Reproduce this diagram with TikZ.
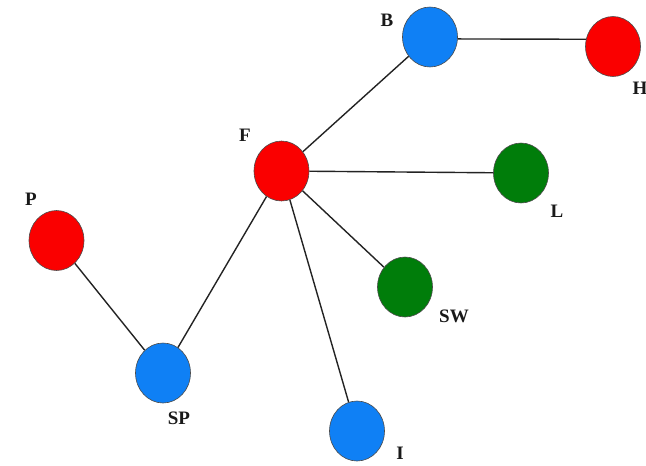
\documentclass[tikz,border=0pt]{standalone}
\usepackage{fontspec}
\setmainfont{Liberation Serif}
\usetikzlibrary{shapes.geometric}
\definecolor{nblue}{RGB}{15,128,245}
\definecolor{nred}{RGB}{250,0,0}
\definecolor{ngreen}{RGB}{0,125,10}
\definecolor{edgec}{RGB}{35,35,35}
\begin{document}
\begin{tikzpicture}[x=1pt,y=-1pt,
  vert/.style={ellipse,draw=black!70,line width=0.6pt,minimum width=55pt,minimum height=60pt,inner sep=0pt},
  bv/.style={vert,fill=nblue},
  rv/.style={vert,fill=nred},
  gv/.style={vert,fill=ngreen},
  lab/.style={font=\bfseries\fontsize{19}{19}\selectfont,inner sep=0pt,text=black!90},
  edge/.style={draw=edgec,line width=1.4pt}]
\useasboundingbox (0,0) rectangle (646,466);
\node[bv] (B) at (430,37) {};
\node[rv] (H) at (613,46.5) {};
\node[rv] (F) at (281.5,171) {};
\node[gv] (L) at (521,173) {};
\node[rv] (P) at (56.5,240.5) {};
\node[gv] (SW) at (405,287) {};
\node[bv] (SP) at (163,373) {};
\node[bv] (I) at (357,431) {};
\node[lab] (lB) at (387,20) {B};
\node[lab] (lH) at (640,88) {H};
\node[lab] (lF) at (245,135) {F};
\node[lab] (lL) at (557,211) {L};
\node[lab] (lP) at (31,199) {P};
\node[lab] (lSW) at (454,316) {SW};
\node[lab] (lSP) at (179,418) {SP};
\node[lab] (lI) at (400,453) {I};
\draw[edge] (B.-4) -- (H.165);
\draw[edge] (B) -- (F);
\draw[edge] (F) -- (L);
\draw[edge] (F) -- (SW);
\draw[edge] (F) -- (I);
\draw[edge] (F) -- (SP);
\draw[edge] (SP) -- (P);
\end{tikzpicture}
\end{document}
